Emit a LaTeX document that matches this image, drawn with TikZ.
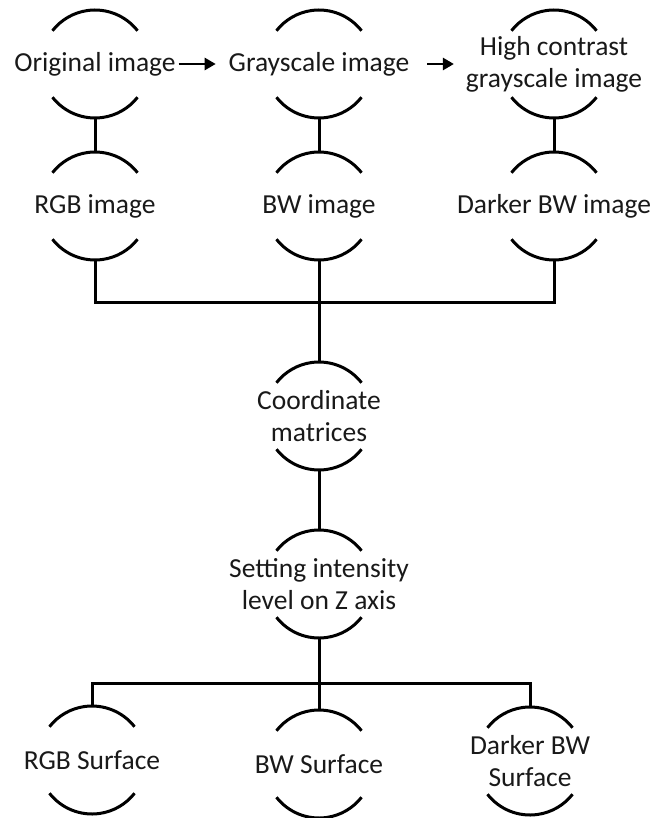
\documentclass[tikz,border=0pt]{standalone}
\usepackage{fontspec}
\setmainfont{Carlito}
\usetikzlibrary{arrows.meta,calc}
\tikzset{
  bubshape/.style={circle,minimum size=108pt,inner sep=0pt,outer sep=0pt,draw=none},
  bubtext/.style={inner sep=0pt,outer sep=0pt,align=center,text=black!90,
    font=\fontsize{27.5}{32}\selectfont},
  arcline/.style={line width=3pt,black},
  conn/.style={line width=3pt,black},
  arr/.style={line width=2.6pt,black,-{Triangle[length=11pt,width=12pt]}}
}
\newcommand\bub[4]{%
  \node[bubshape] (#1) at (#2,#3) {};
  \node[bubtext] (#1t) at (#1.center) {#4};
  \draw[arcline] (#1.38) arc[start angle=38,end angle=142,radius=54pt];
  \draw[arcline] (#1.218) arc[start angle=218,end angle=322,radius=54pt];
}
\begin{document}
\begin{tikzpicture}[x=1pt,y=1pt]
\useasboundingbox (0,0) rectangle (654,-818);
\bub{A1}{95}{-64}{Original image}
\bub{A2}{319}{-64}{Grayscale image}
\bub{A3}{554}{-64}{High contrast\\grayscale image}
\bub{B1}{95}{-206}{RGB image}
\bub{B2}{319}{-206}{BW image}
\bub{B3}{554}{-206}{Darker BW image}
\bub{C}{319}{-416}{Coordinate\\matrices}
\bub{D}{319}{-584}{Setting intensity\\level on Z axis}
\bub{E1}{92}{-760}{RGB Surface}
\bub{E2}{319}{-764}{BW Surface}
\bub{E3}{530}{-761}{Darker BW\\Surface}
\coordinate (bus1) at (319,-302);
\coordinate (bus2) at (319,-683);
% arrows
\draw[arr] ([xshift=3pt]A1t.east) -- ($(A1t.east -| A2t.west)+(-13,0)$);
\draw[arr] ([xshift=18pt]A2t.east) -- ($(A2t.east -| A3t.west)+(-12,0)$);
% vertical links
\draw[conn] (A1.south) -- (B1.north);
\draw[conn] (A2.south) -- (B2.north);
\draw[conn] (A3.south) -- (B3.north);
\draw[conn] (B1.south) |- (bus1) -| (B3.south);
\draw[conn] (B2.south) -- (C.north);
\draw[conn] (C.south) -- (D.north);
\draw[conn] (D.south) -- (E2.north);
\draw[conn] (E1.north) |- (bus2) -| (E3.north);
\end{tikzpicture}
\end{document}
